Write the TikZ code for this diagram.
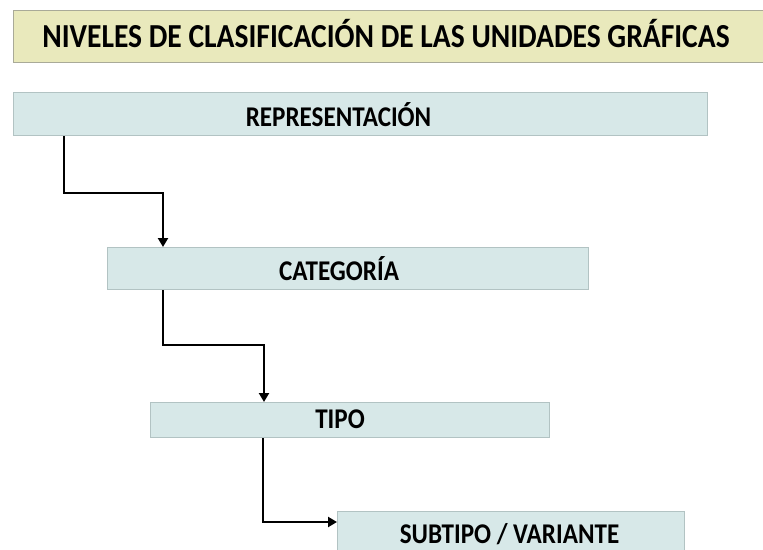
\documentclass[tikz,border=0pt]{standalone}
\usepackage{fontspec}
\setmainfont{Carlito}
\usetikzlibrary{arrows.meta}
\definecolor{titlefill}{HTML}{E9E9BC}
\definecolor{titleline}{HTML}{A9AA98}
\definecolor{boxfill}{HTML}{D7E8E8}
\definecolor{boxline}{HTML}{B2C3C3}
\newcommand\tallt[1]{\scalebox{0.985}[1.12]{#1}}
\tikzset{
  titlebox/.style={draw=titleline, fill=titlefill, line width=1.2pt, rectangle, inner sep=0pt, anchor=north west},
  levelbox/.style={draw=boxline, fill=boxfill, line width=1.2pt, rectangle, inner sep=0pt, anchor=north west},
  titletext/.style={inner sep=0pt, anchor=base, font=\fontsize{30}{36}\selectfont\bfseries},
  leveltext/.style={inner sep=0pt, anchor=base, font=\fontsize{25.5}{30}\selectfont\bfseries},
  arr/.style={draw=black, line width=2.2pt, -{Triangle[width=10pt,length=9pt]}}
}
\begin{document}
\begin{tikzpicture}[x=1pt,y=-1pt]
\useasboundingbox (0,0) rectangle (763,549);
\clip (0,0) rectangle (763,549);
% title
\node[titlebox, minimum width=770pt, minimum height=52pt] (title) at (13,10) {};
\node[titletext] (titlet) at (386,47) {\tallt{NIVELES DE CLASIFICACIÓN DE LAS UNIDADES GRÁFICAS}};
% level boxes
\node[levelbox, minimum width=694pt, minimum height=43pt] (rep) at (13,92) {};
\node[leveltext] (rept) at (338.5,126) {\tallt{REPRESENTACIÓN}};
\node[levelbox, minimum width=481pt, minimum height=42pt] (cat) at (107,247) {};
\node[leveltext] (catt) at (339,280) {\tallt{CATEGORÍA}};
\node[levelbox, minimum width=399pt, minimum height=35pt] (tipo) at (150,402) {};
\node[leveltext] (tipot) at (340,428) {\tallt{TIPO}};
\node[levelbox, minimum width=347pt, minimum height=60pt] (sub) at (337,511) {};
\node[leveltext] (subt) at (509.5,543) {\tallt{SUBTIPO / VARIANTE}};
% connectors
\draw[arr] ([xshift=51pt]rep.south west) -- ++(0,57) -| ([xshift=56pt]cat.north west);
\draw[arr] ([xshift=56pt]cat.south west) -- ++(0,55) -| ([xshift=114pt]tipo.north west);
\draw[arr] ([xshift=113pt]tipo.south west) |- ([yshift=-11pt]sub.north west);
\end{tikzpicture}
\end{document}
